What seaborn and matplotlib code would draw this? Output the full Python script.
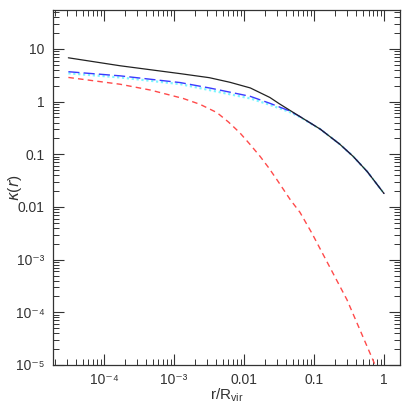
"""
Convergence profile kappa(r) for the total mass and its components.
"""

import numpy as np
import matplotlib
matplotlib.use('Agg')
import matplotlib.pyplot as plt
import seaborn as sns
import pandas as pd
from matplotlib.ticker import FixedLocator, FixedFormatter, LogLocator, NullFormatter

# values
r_total = [3.1e-5, 1.7e-4, 1.23e-3, 3.2e-3, 6.3e-3, 0.0123, 0.0234, 0.032,
           0.063, 0.123, 0.234, 0.363, 0.575, 1.0]
k_total = [6.8, 4.8, 3.4, 2.85, 2.33, 1.82, 1.2, 0.91,
           0.52, 0.30, 0.155, 0.091, 0.047, 0.018]

r_blue = [3.1e-5, 1.7e-4, 1.23e-3, 3.2e-3, 0.0123, 0.0234, 0.0457, 0.063,
          0.123, 0.234, 0.363, 0.575, 1.0]
k_blue = [3.7, 3.09, 2.3, 1.82, 1.26, 0.93, 0.66, 0.52,
          0.30, 0.155, 0.091, 0.047, 0.018]

r_cyan = [3.1e-5, 1.7e-4, 1.23e-3, 3.2e-3, 0.0123, 0.0234, 0.0457, 0.063,
          0.123, 0.234, 0.363, 0.575, 1.0]
k_cyan = [3.45, 2.88, 2.15, 1.66, 1.15, 0.87, 0.63, 0.51,
          0.30, 0.155, 0.091, 0.047, 0.018]

r_red = [3.1e-5, 1.7e-4, 4.6e-4, 1.35e-3, 2.35e-3, 4.1e-3, 6.0e-3, 8.7e-3,
         0.012, 0.017, 0.0224, 0.0295, 0.0457, 0.063, 0.093, 0.295, 0.74, 1.0]
k_red = [2.88, 2.14, 1.66, 1.15, 0.89, 0.62, 0.41, 0.257,
         0.158, 0.091, 0.056, 0.033, 0.0138, 0.0079, 0.0032, 1.74e-4, 1.02e-5, 4e-6]

x_major = [1e-4, 1e-3, 1e-2, 1e-1, 1]
x_labels = ['10⁻⁴', '10⁻³', '0.01', '0.1', '1']
y_major = [1e-5, 1e-4, 1e-3, 1e-2, 1e-1, 1, 10]
y_labels = ['10⁻⁵', '10⁻⁴', '10⁻³', '0.01', '0.1', '1', '10']

sns.set_style('ticks')
plt.rcParams['font.family'] = ['Liberation Sans', 'DejaVu Sans']
plt.rcParams['mathtext.fontset'] = 'custom'
plt.rcParams['mathtext.rm'] = 'Liberation Sans'
plt.rcParams['mathtext.it'] = 'DejaVu Sans:italic'

fig = plt.figure(figsize=(4.09, 4.09), dpi=100)
ax = fig.add_axes([0.1296, 0.1076, 0.978 - 0.1296, 0.9756 - 0.1076])

df_cyan = pd.DataFrame({'r': r_cyan, 'k': k_cyan})
df_blue = pd.DataFrame({'r': r_blue, 'k': k_blue})
df_total = pd.DataFrame({'r': r_total, 'k': k_total})
df_red = pd.DataFrame({'r': r_red, 'k': k_red})

sns.lineplot(data=df_cyan, x='r', y='k', ax=ax, color='#7ff5ff', lw=1.6,
             linestyle=(0, (1, 1.2)), estimator=None, sort=False)
sns.lineplot(data=df_blue, x='r', y='k', ax=ax, color='#3a3aff', lw=1.0,
             linestyle=(0, (8, 3)), estimator=None, sort=False)
sns.lineplot(data=df_total, x='r', y='k', ax=ax, color='#222222', lw=0.9,
             estimator=None, sort=False)
sns.lineplot(data=df_red, x='r', y='k', ax=ax, color='#ff4a4a', lw=1.0,
             linestyle=(0, (4, 3)), estimator=None, sort=False)

ax.set_xscale('log')
ax.set_yscale('log')
ax.set_xlim(1.87e-5, 1.69)
ax.set_ylim(1e-5, 55)

ax.xaxis.set_major_locator(FixedLocator(x_major))
ax.xaxis.set_major_formatter(FixedFormatter(x_labels))
ax.yaxis.set_major_locator(FixedLocator(y_major))
ax.yaxis.set_major_formatter(FixedFormatter(y_labels))
ax.xaxis.set_minor_locator(LogLocator(base=10, subs=np.arange(2, 10), numticks=20))
ax.yaxis.set_minor_locator(LogLocator(base=10, subs=np.arange(2, 10), numticks=20))
ax.xaxis.set_minor_formatter(NullFormatter())
ax.yaxis.set_minor_formatter(NullFormatter())

ax.tick_params(which='both', direction='in', top=True, right=True,
               color='#333333', labelcolor='#333333', labelsize=10)
ax.tick_params(which='major', length=8, width=0.8, pad=6)
ax.tick_params(which='minor', length=4, width=0.7)
for s in ax.spines.values():
    s.set_color('#333333')
    s.set_linewidth(0.9)

ax.set_xlabel(r'r/R$_{\rm vir}$', fontsize=11, color='#333333')
ax.set_ylabel(r'$\kappa(r)$', fontsize=11, color='#333333')
ax.xaxis.set_label_coords(0.5, -0.085)
ax.yaxis.set_label_coords(-0.11, 0.5)
ax.xaxis.label.set_va('center')
ax.yaxis.label.set_va('center')

plt.savefig('out.png', dpi=100)
plt.close()
